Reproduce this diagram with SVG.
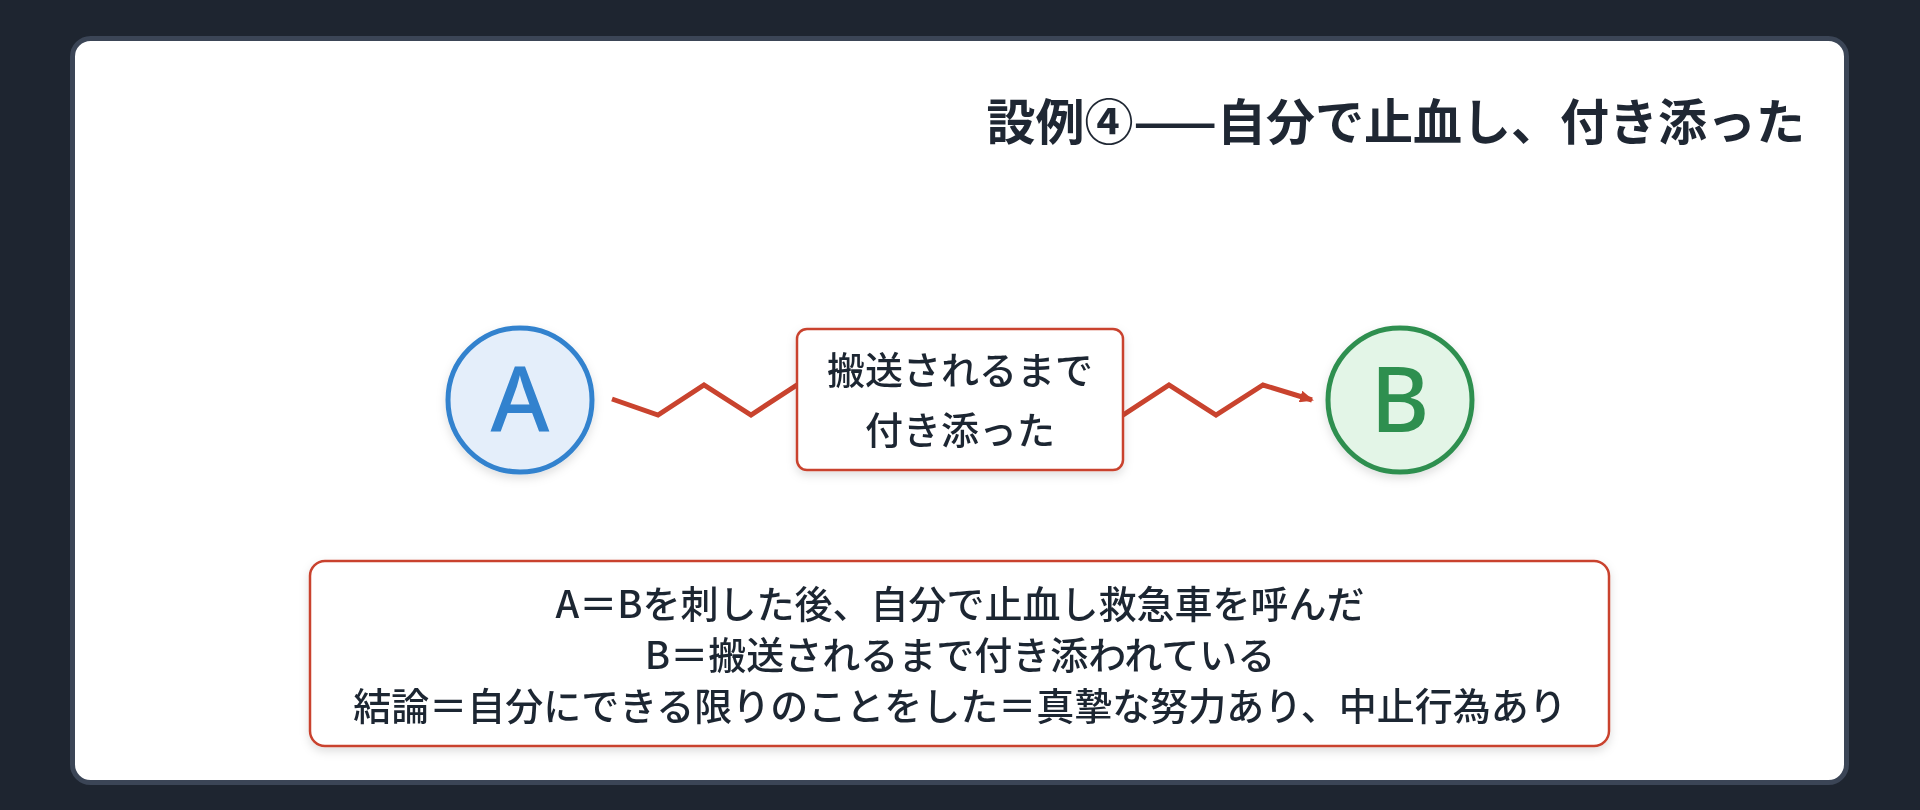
<svg xmlns="http://www.w3.org/2000/svg" width="1920" height="810" viewBox="0 0 1920 810">
<defs>
<style>
.jp{font-family:"Noto Sans CJK JP","Noto Sans",sans-serif;fill:#1f2733;font-weight:500}
.title{font-size:49px;font-weight:600;text-anchor:end}
.lbl{font-size:38px;text-anchor:middle}
.big{font-family:"Noto Sans","Open Sans",sans-serif;font-size:90px;font-weight:500;text-anchor:middle}
.red{fill:#ffffff;stroke:#c9432e;stroke-width:2.5}
.zig{fill:none;stroke:#c9432e;stroke-width:5;stroke-linejoin:miter}
</style>
<marker id="arr" markerWidth="14" markerHeight="12" refX="12" refY="6" orient="auto" markerUnits="userSpaceOnUse" viewBox="0 0 14 12">
<path d="M0,0 L14,6 L0,12 z" fill="#c9432e"/>
</marker>
<filter id="sh" x="-20%" y="-20%" width="140%" height="150%">
<feDropShadow dx="0" dy="4" stdDeviation="5" flood-color="#000" flood-opacity="0.13"/>
</filter>
</defs>
<rect x="0" y="0" width="1920" height="810" fill="#1e2530"/>
<rect x="72.5" y="38.5" width="1774" height="744" rx="18" fill="#ffffff" stroke="#3b4556" stroke-width="5"/>
<g id="title">
<text class="jp title" x="1805" y="140">設例④——自分で止血し、付き添った</text>
</g>
<g id="connectors">
<polyline class="zig" marker-end="url(#arr)" points="612,399 658,415 704,385 751,415 797,385 844,415 890,385 937,415 983,385 1030,415 1076,385 1123,415 1169,385 1216,415 1263,385 1312,400"/>
</g>
<g id="nodeA" filter="url(#sh)">
<circle cx="520" cy="400" r="72" fill="#e4eefa" stroke="#3182ce" stroke-width="5"/>
<text class="big" x="520" y="432" fill="#3182ce">A</text>
</g>
<g id="nodeB" filter="url(#sh)">
<circle cx="1400" cy="400" r="72" fill="#e3f5e7" stroke="#2f8f50" stroke-width="5"/>
<text class="big" x="1400" y="432" fill="#2f8f50">B</text>
</g>
<g id="label" filter="url(#sh)">
<rect class="red" x="797" y="329" width="326" height="141" rx="10"/>
<text class="jp lbl" x="960" y="384">搬送されるまで</text>
<text class="jp lbl" x="960" y="444">付き添った</text>
</g>
<g id="summary" filter="url(#sh)">
<rect class="red" x="310" y="561" width="1299" height="185" rx="15" stroke-width="3"/>
<text class="jp lbl" x="960" y="618">A＝Bを刺した後、自分で止血し救急車を呼んだ</text>
<text class="jp lbl" x="960" y="669">B＝搬送されるまで付き添われている</text>
<text class="jp lbl" x="960" y="720">結論＝自分にできる限りのことをした＝真摯な努力あり、中止行為あり</text>
</g>
</svg>
